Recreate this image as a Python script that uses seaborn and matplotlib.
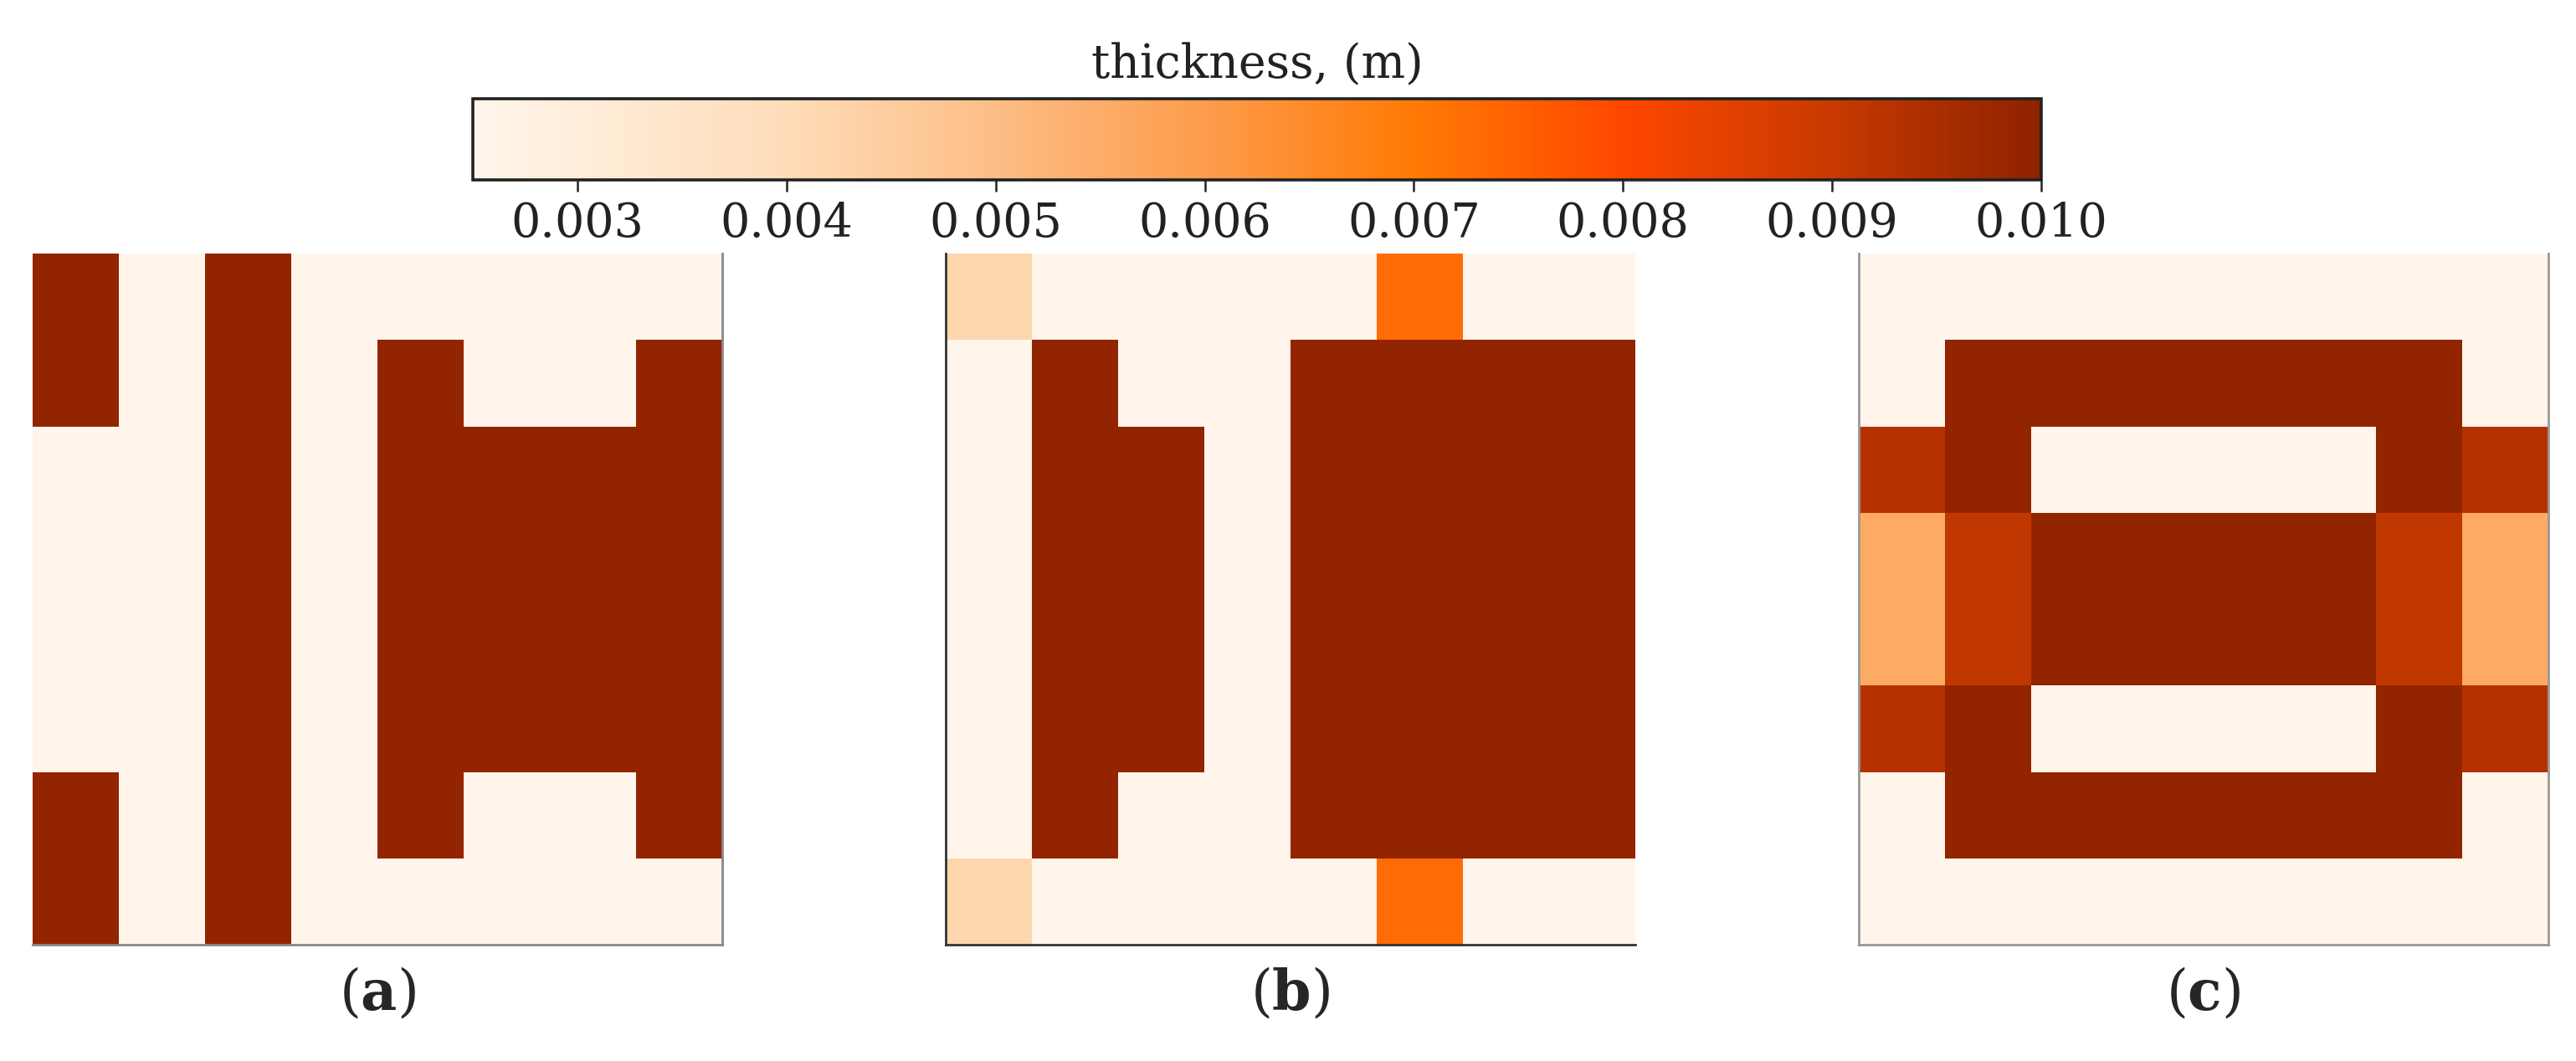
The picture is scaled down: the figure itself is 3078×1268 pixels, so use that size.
import numpy as np
import matplotlib
matplotlib.use("Agg")
import matplotlib.pyplot as plt
import seaborn as sns
from matplotlib.colors import LinearSegmentedColormap

# --- thickness values (m) read from the three 8x8 layouts ---
L = 0.0025   # thin / background
D = 0.0099   # thick

thick_a = [
    [D, L, D, L, L, L, L, L],
    [D, L, D, L, D, L, L, D],
    [L, L, D, L, D, D, D, D],
    [L, L, D, L, D, D, D, D],
    [L, L, D, L, D, D, D, D],
    [L, L, D, L, D, D, D, D],
    [D, L, D, L, D, L, L, D],
    [D, L, D, L, L, L, L, L],
]

thick_b = [
    [0.0042, L, L, L, L, 0.0073, L, L],
    [L, D, L, L, D, D, D, D],
    [L, D, D, L, D, D, D, D],
    [L, D, D, L, D, D, D, D],
    [L, D, D, L, D, D, D, D],
    [L, D, D, L, D, D, D, D],
    [L, D, L, L, D, D, D, D],
    [0.0042, L, L, L, L, 0.0073, L, L],
]

thick_c = [
    [L, L, L, L, L, L, L, L],
    [L, D, D, D, D, D, D, L],
    [0.0093, D, L, L, L, L, D, 0.0093],
    [0.0056, 0.0091, D, D, D, D, 0.0091, 0.0056],
    [0.0056, 0.0091, D, D, D, D, 0.0091, 0.0056],
    [0.0093, D, L, L, L, L, D, 0.0093],
    [L, D, D, D, D, D, D, L],
    [L, L, L, L, L, L, L, L],
]

panel_labels = ["a", "b", "c"]
cbar_ticks = [0.003, 0.004, 0.005, 0.006, 0.007, 0.008, 0.009, 0.010]
vmin, vmax = 0.0025, 0.010

# colour ramp as seen on the colour bar
cmap_vals = [0.0025, 0.004, 0.005, 0.006, 0.007, 0.008, 0.009, 0.010]
cmap_cols = ["#fff5eb", "#fedcb8", "#fdbd85", "#fd9c4c", "#ff7a05", "#ff4700", "#c83a00", "#8e2200"]
cmap = LinearSegmentedColormap.from_list(
    "thick", [((v - vmin) / (vmax - vmin), c) for v, c in zip(cmap_vals, cmap_cols)])

sns.set_style("white")
plt.rcParams["font.family"] = ["DejaVu Serif"]
plt.rcParams["mathtext.fontset"] = "custom"
plt.rcParams["mathtext.rm"] = "DejaVu Serif"
plt.rcParams["mathtext.bf"] = "DejaVu Serif:bold"

fig = plt.figure(figsize=(15.39, 6.34), dpi=200)
W, H = 3078, 1268

def px_axes(x0, y0, x1, y1):
    return fig.add_axes([x0 / W, 1 - y1 / H, (x1 - x0) / W, (y1 - y0) / H])

axes = [px_axes(39, 303, 863, 1129),
        px_axes(1130, 303, 1954, 1129),
        px_axes(2221, 303, 3045, 1129)]
cax = px_axes(565, 118, 2439, 215)

spine_sets = [("right", "bottom"), ("left", "bottom"), ("left", "right", "bottom")]
spine_cols = ["#888888", "#333333", "#999999"]

for i, (ax, data) in enumerate(zip(axes, [thick_a, thick_b, thick_c])):
    sns.heatmap(np.array(data), ax=ax, cmap=cmap, vmin=vmin, vmax=vmax,
                cbar=(i == 0), cbar_ax=cax if i == 0 else None,
                cbar_kws={"orientation": "horizontal", "ticks": cbar_ticks},
                xticklabels=False, yticklabels=False, square=False)
    ax.set_xticks([])
    ax.set_yticks([])
    for s in ["left", "right", "top", "bottom"]:
        ax.spines[s].set_visible(s in spine_sets[i])
        ax.spines[s].set_color(spine_cols[i])
        ax.spines[s].set_linewidth(1.0)
    ax.text(0.5, -0.072, r"($\mathbf{%s}$)" % panel_labels[i], transform=ax.transAxes,
            ha="center", va="center", fontsize=24)

cbar = axes[0].collections[0].colorbar
cbar.outline.set_edgecolor("#222222")
cbar.outline.set_linewidth(1.3)
cbar.ax.tick_params(axis="x", length=5, width=0.9, pad=4, labelsize=20, colors="#222222")
cbar.ax.set_xticklabels(["%.3f" % t for t in cbar_ticks])
fig.text(1502 / W, 1 - 78 / H, "thickness, (m)", ha="center", va="center",
         fontsize=20, color="#222222")

fig.savefig("out.png", dpi=200)
